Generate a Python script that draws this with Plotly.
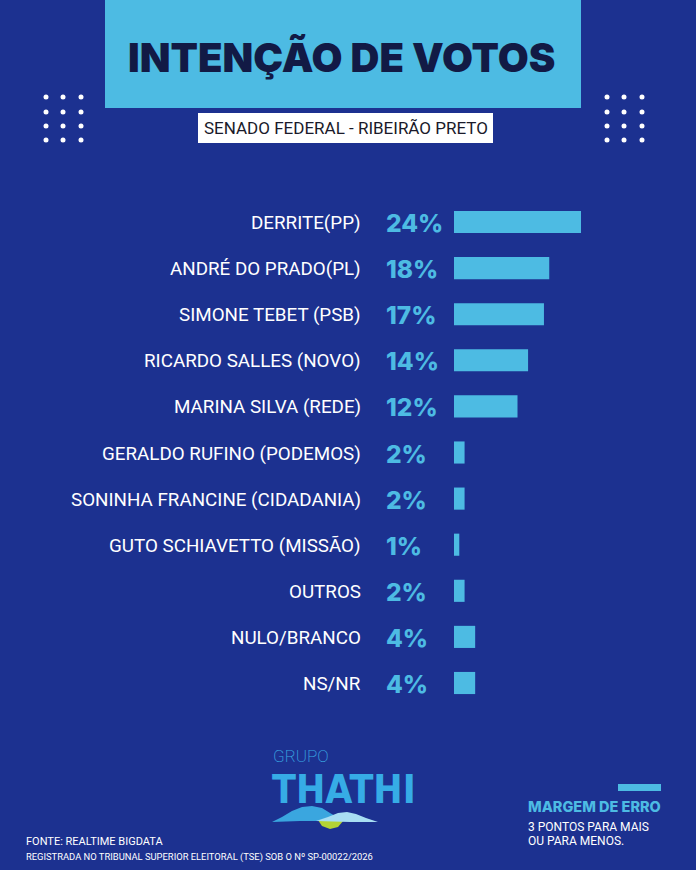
import plotly.graph_objects as go

W, H = 696, 870

# ---- data ----
candidates = [
    "DERRITE(PP)",
    "ANDRÉ DO PRADO(PL)",
    "SIMONE TEBET (PSB)",
    "RICARDO SALLES (NOVO)",
    "MARINA SILVA (REDE)",
    "GERALDO RUFINO (PODEMOS)",
    "SONINHA FRANCINE (CIDADANIA)",
    "GUTO SCHIAVETTO (MISSÃO)",
    "OUTROS",
    "NULO/BRANCO",
    "NS/NR",
]
percent_values = [24, 18, 17, 14, 12, 2, 2, 1, 2, 4, 4]
percent_labels = [f"{v}%" for v in percent_values]

title_text = "INTENÇÃO DE VOTOS"
subtitle_text = "SENADO FEDERAL - RIBEIRÃO PRETO"
source_text = "FONTE: REALTIME BIGDATA"
register_text = "REGISTRADA NO TRIBUNAL SUPERIOR ELEITORAL (TSE) SOB O Nº SP-00022/2026"
margin_title = "MARGEM DE ERRO"
margin_lines = ["3 PONTOS PARA MAIS", "OU PARA MENOS."]

# ---- style ----
BG = "#1c3190"
LIGHT = "#4dbbe3"
NAVY = "#121a45"


def px(x):
    return x / W


def py(y):
    return 1 - y / H


fig = go.Figure()
fig.add_trace(go.Bar(
    x=percent_values,
    y=candidates,
    orientation="h",
    width=0.48,
    marker=dict(color=LIGHT, line=dict(width=0)),
    hoverinfo="skip",
))

shapes = []
# title box
shapes.append(dict(type="rect", xref="paper", yref="paper", x0=px(105), x1=px(581), y0=py(108), y1=1,
                   fillcolor=LIGHT, line=dict(width=0)))
# subtitle box
shapes.append(dict(type="rect", xref="paper", yref="paper", x0=px(198), x1=px(493), y0=py(143), y1=py(113),
                   fillcolor="white", line=dict(width=0)))
# dot grids
for xs in ([46, 63, 81], [607, 624, 642]):
    for cx in xs:
        for cy in [97, 112, 126, 140]:
            shapes.append(dict(type="circle", xref="paper", yref="paper",
                               x0=px(cx - 2.5), x1=px(cx + 2.5), y0=py(cy + 2.5), y1=py(cy - 2.5),
                               fillcolor="white", line=dict(width=0)))
# margin of error bar
shapes.append(dict(type="rect", xref="paper", yref="paper", x0=px(618), x1=px(661), y0=py(791), y1=py(784),
                   fillcolor=LIGHT, line=dict(width=0)))


def path(points):
    return "M " + " L ".join(f"{px(x):.5f},{py(y):.5f}" for x, y in points) + " Z"


# logo waves
shapes.append(dict(type="path", xref="paper", yref="paper",
                   path=path([(318, 820), (322, 826), (330, 829), (338, 827), (344, 820)]),
                   fillcolor="#b4d334", line=dict(width=0)))
shapes.append(dict(type="path", xref="paper", yref="paper",
                   path=path([(272, 822), (282, 817), (292, 811), (302, 807), (312, 806), (322, 808),
                              (330, 813), (337, 817), (345, 820), (330, 821), (300, 821)]),
                   fillcolor="#3aa6df", line=dict(width=0)))
shapes.append(dict(type="path", xref="paper", yref="paper",
                   path=path([(316, 821), (328, 817), (338, 813), (347, 812), (356, 814), (366, 818),
                              (378, 822), (350, 822)]),
                   fillcolor="#a8def3", line=dict(width=0)))

annotations = []
# names and percentages, placed at category rows
for name, lab in zip(candidates, percent_labels):
    annotations.append(dict(x=px(363), y=name, xref="paper", yref="y", text=name, showarrow=False,
                            xanchor="right", yanchor="middle", yshift=-1,
                            font=dict(family="Roboto", size=18.8, color="white")))
    annotations.append(dict(x=px(384), y=name, xref="paper", yref="y", text=lab, showarrow=False,
                            xanchor="left", yanchor="middle", yshift=-1,
                            font=dict(family="Inter", size=24.5, color=LIGHT, weight=800)))

annotations += [
    dict(x=px(341), y=py(57), xref="paper", yref="paper", text=title_text, showarrow=False,
         xanchor="center", yanchor="middle", font=dict(family="Inter", size=40, color=NAVY, weight=900)),
    dict(x=px(346), y=py(128.5), xref="paper", yref="paper", text=subtitle_text, showarrow=False,
         xanchor="center", yanchor="middle", font=dict(family="Roboto", size=17, color="#1a1a2a")),
    # logo
    dict(x=px(271), y=py(756), xref="paper", yref="paper", text="GRUPO", showarrow=False,
         xanchor="left", yanchor="middle", font=dict(family="Roboto", size=17, color="#3aa8e2", weight=200)),
    dict(x=px(270), y=py(789), xref="paper", yref="paper", text="THATHI", showarrow=False,
         xanchor="left", yanchor="middle",
         font=dict(family="DejaVu Sans Condensed, Roboto", size=39, color="#36ace6", weight="bold")),
    # margin of error
    dict(x=px(526), y=py(806), xref="paper", yref="paper", text=margin_title, showarrow=False,
         xanchor="left", yanchor="middle", font=dict(family="Inter", size=14.5, color=LIGHT, weight=800)),
    dict(x=px(526), y=py(827), xref="paper", yref="paper", text=margin_lines[0], showarrow=False,
         xanchor="left", yanchor="middle", font=dict(family="Roboto", size=12, color="white")),
    dict(x=px(526), y=py(841), xref="paper", yref="paper", text=margin_lines[1], showarrow=False,
         xanchor="left", yanchor="middle", font=dict(family="Roboto", size=12, color="white")),
    # footer
    dict(x=px(24), y=py(841), xref="paper", yref="paper", text=source_text, showarrow=False,
         xanchor="left", yanchor="middle", font=dict(family="Roboto", size=11, color="white")),
    dict(x=px(24), y=py(857), xref="paper", yref="paper", text=register_text, showarrow=False,
         xanchor="left", yanchor="middle", font=dict(family="Roboto", size=9.4, color="white")),
]

row_px = 46.1
top_edge = 222 - row_px / 2
bottom_edge = 683 + row_px / 2

fig.update_layout(
    width=W, height=H,
    margin=dict(l=0, r=0, t=0, b=0),
    paper_bgcolor=BG, plot_bgcolor="rgba(0,0,0,0)",
    showlegend=False,
    xaxis=dict(domain=[px(454), 1], range=[0, 24 * (W - 454) / 127], visible=False, fixedrange=True),
    yaxis=dict(domain=[py(bottom_edge), py(top_edge)], autorange=False, range=[10.5, -0.5],
               type="category", categoryorder="array", categoryarray=candidates,
               visible=False, fixedrange=True),
    shapes=shapes,
    annotations=annotations,
)

fig.write_html("out.html", config={"displayModeBar": False},
               post_script="document.body.style.margin='0';")
